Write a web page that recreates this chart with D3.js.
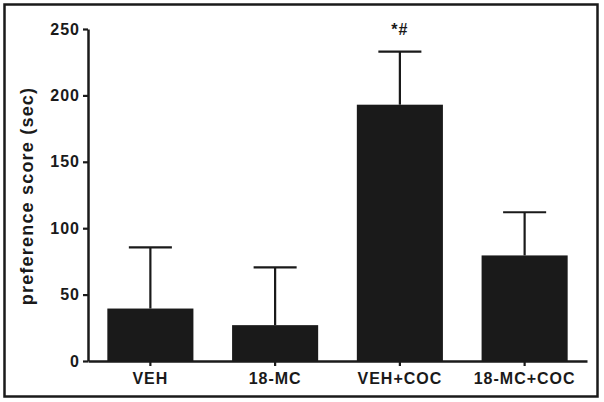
<!DOCTYPE html>
<html>
<head>
<meta charset="utf-8">
<script src="https://cdn.jsdelivr.net/npm/d3@7"></script>
<style>
  body { margin: 0; background: #fff; }
  svg { display: block; font-family: "Liberation Sans", Arial, sans-serif; }
</style>
</head>
<body>
<svg></svg>
<script>
const WIDTH = 604;
const HEIGHT = 402;
const BAR_COLOR = '#1a1a1a';
const INK = '#1a1a1a';

// data
const groups = ['VEH', '18-MC', 'VEH+COC', '18-MC+COC'];
const means = [39.5, 27, 193, 79.5];
const errors = [46, 43.5, 40, 32.5];   // upper SEM above mean
const marks = ['', '', '*#', ''];
const yTicks = [0, 50, 100, 150, 200, 250];

const svg = d3.select('svg')
    .attr('width', WIDTH)
    .attr('height', HEIGHT);

// outer frame
svg.append('rect')
    .attr('x', 4.5).attr('y', 4.5)
    .attr('width', 593).attr('height', 392)
    .attr('fill', 'none')
    .attr('stroke', INK)
    .attr('stroke-width', 2.5);

var x = d3.scaleBand()
    .domain(groups)
    .range([88, 587])
    .paddingInner(0.31)
    .paddingOuter(0.155);

var y = d3.scaleLinear()
    .domain([0, 250])
    .range([361, 29]);

/* bars */
svg.selectAll('.bar')
    .data(groups)
    .enter().append('rect')
    .attr('class', 'bar')
    .attr('x', d => x(d))
    .attr('width', x.bandwidth())
    .attr('y', (d, i) => y(means[i]))
    .attr('height', (d, i) => y(0) - y(means[i]))
    .attr('fill', BAR_COLOR);

/* error bars (upper only) */
var err = svg.append('g')
    .attr('stroke', INK)
    .attr('stroke-width', 2.2);

groups.forEach((g, i) => {
    var cx = x(g) + x.bandwidth() / 2;
    err.append('line')
        .attr('x1', cx).attr('x2', cx)
        .attr('y1', y(means[i])).attr('y2', y(means[i] + errors[i]));
    err.append('line')
        .attr('x1', cx - x.bandwidth() / 4).attr('x2', cx + x.bandwidth() / 4)
        .attr('y1', y(means[i] + errors[i])).attr('y2', y(means[i] + errors[i]));
});

/* significance marks */
svg.selectAll('.mark')
    .data(groups)
    .enter().append('text')
    .attr('class', 'mark')
    .attr('x', d => x(d) + x.bandwidth() / 2)
    .attr('y', (d, i) => y(means[i] + errors[i]) - 17)
    .attr('text-anchor', 'middle')
    .attr('font-size', 16)
    .attr('font-weight', 'bold')
    .attr('letter-spacing', 1)
    .attr('fill', INK)
    .text((d, i) => marks[i]);

/* Y axis */
var yAxis = svg.append('g')
    .attr('transform', 'translate(88,0)')
    .call(d3.axisLeft(y).tickValues(yTicks).tickSize(5).tickPadding(3).tickSizeOuter(0));

/* X axis */
var xAxis = svg.append('g')
    .attr('transform', 'translate(0,361)')
    .call(d3.axisBottom(x).tickSize(5).tickPadding(7).tickSizeOuter(0));

[yAxis, xAxis].forEach(ax => {
    ax.select('.domain').attr('stroke', INK).attr('stroke-width', 2.5);
    ax.selectAll('.tick line').attr('stroke', INK).attr('stroke-width', 2.2);
    ax.selectAll('.tick text')
        .attr('fill', INK)
        .attr('font-size', 16)
        .attr('font-weight', 'bold')
        .attr('letter-spacing', 1)
        .attr('font-family', '"Liberation Sans", Arial, sans-serif');
});

/* Y label */
svg.append('text')
    .attr('transform', 'translate(33,196) rotate(-90)')
    .attr('text-anchor', 'middle')
    .attr('font-size', 18)
    .attr('font-weight', 'bold')
    .attr('letter-spacing', 1.2)
    .attr('fill', INK)
    .text('preference score (sec)');
</script>
</body>
</html>
